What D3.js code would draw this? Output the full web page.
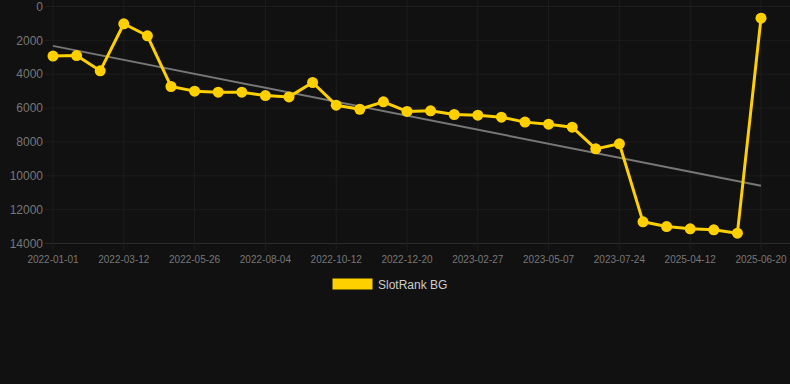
<!DOCTYPE html>
<html><head><meta charset="utf-8">
<script src="https://cdn.jsdelivr.net/npm/d3@7"></script>
<style>html,body{margin:0;padding:0;background:#111111;}svg{display:block;}</style>
</head><body><svg id="c" width="790" height="384"></svg>
<script>
const dates = ["2022-01-01","2022-01-24","2022-02-17","2022-03-12","2022-04-04","2022-04-28","2022-05-26","2022-06-18","2022-07-11","2022-08-04","2022-08-27","2022-09-19","2022-10-12","2022-11-04","2022-11-27","2022-12-20","2023-01-12","2023-02-04","2023-02-27","2023-03-22","2023-04-14","2023-05-07","2023-05-30","2023-06-30","2023-07-24","2025-02-10","2025-03-10","2025-04-12","2025-05-05","2025-05-28","2025-06-20"];
const ranks = [2930,2900,3800,1020,1730,4725,5000,5060,5060,5260,5340,4490,5830,6070,5630,6200,6160,6380,6420,6540,6830,6950,7130,8410,8110,12720,13000,13130,13190,13390,690];
const yTicks = [0,2000,4000,6000,8000,10000,12000,14000];
const seriesName = "SlotRank BG";

(function () {
const svg = d3.select("#c");
const pl = 53, pr = 761, pt = 6.5, pb = 243.5;
const x = d3.scalePoint().domain(dates).range([pl, pr]);
const y = d3.scaleLinear().domain([0, 14000]).range([pt, pb]);
const gridColor = "#1d1d1d";

svg.append("g").selectAll("line").data(yTicks).join("line")
  .attr("x1", 45).attr("x2", 790)
  .attr("y1", d => y(d)).attr("y2", d => y(d))
  .attr("stroke", d => d === 14000 ? "#2c2c2c" : gridColor).attr("stroke-width", 1);
const xLabels = dates.filter((d, i) => i % 3 === 0);
svg.append("g").selectAll("line").data(xLabels).join("line")
  .attr("x1", d => x(d)).attr("x2", d => x(d))
  .attr("y1", 0).attr("y2", pb + 7)
  .attr("stroke", gridColor).attr("stroke-width", 1);

svg.append("g").selectAll("text").data(yTicks).join("text")
  .attr("x", 43).attr("y", d => y(d)).attr("dy", "0.35em")
  .attr("text-anchor", "end").attr("fill", "#777777")
  .style("font", "12px 'Liberation Sans', Arial, sans-serif")
  .text(d => d);
svg.append("g").selectAll("text").data(xLabels).join("text")
  .attr("x", d => x(d)).attr("y", 259).attr("dy", "0.35em")
  .attr("text-anchor", "middle").attr("fill", "#777777")
  .style("font", "10px 'Liberation Sans', Arial, sans-serif")
  .text(d => d);

const n = ranks.length;
const mx = d3.mean(d3.range(n)), my = d3.mean(ranks);
let sxy = 0, sxx = 0;
ranks.forEach((v, i) => { sxy += (i - mx) * (v - my); sxx += (i - mx) * (i - mx); });
const slope = sxy / sxx, icpt = my - slope * mx;
svg.append("line")
  .attr("x1", x(dates[0])).attr("y1", y(icpt))
  .attr("x2", x(dates[n - 1])).attr("y2", y(icpt + slope * (n - 1)))
  .attr("stroke", "#777777").attr("stroke-width", 2);

const col = "#FFD000";
svg.append("path").datum(ranks)
  .attr("d", d3.line().x((d, i) => x(dates[i])).y(d => y(d)))
  .attr("fill", "none").attr("stroke", col).attr("stroke-width", 3).attr("stroke-linejoin", "round");
svg.append("g").selectAll("circle").data(ranks).join("circle")
  .attr("cx", (d, i) => x(dates[i])).attr("cy", d => y(d)).attr("r", 5.5).attr("fill", col);

svg.append("rect").attr("x", 332.5).attr("y", 278.5).attr("width", 40).attr("height", 11).attr("fill", col);
svg.append("text").attr("x", 378).attr("y", 284.5).attr("dy", "0.35em")
  .attr("fill", "#cccccc").style("font", "12px 'Liberation Sans', Arial, sans-serif").text(seriesName);
})();
</script></body></html>
